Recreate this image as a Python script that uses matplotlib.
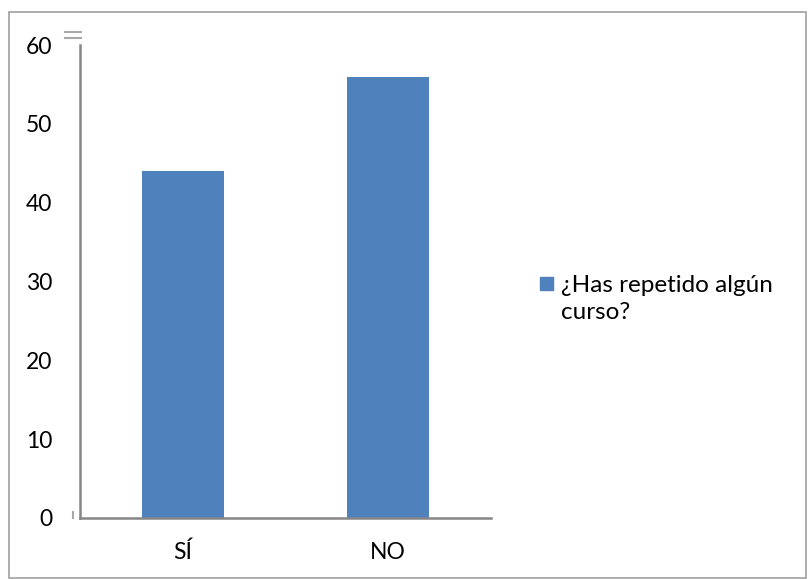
import matplotlib
matplotlib.use("Agg")
import matplotlib.pyplot as plt
from matplotlib.patches import Rectangle
from matplotlib.lines import Line2D

categories = ["SÍ", "NO"]
values = [44, 56]
series_name = "¿Has repetido algún\ncurso?"
yticks = [0, 10, 20, 30, 40, 50, 60]

W, H = 808, 579
fig = plt.figure(figsize=(W / 100, H / 100), dpi=100)
plt.rcParams['font.family'] = ['Lato', 'DejaVu Sans']

def fx(x):
    return x / W

def fy(y):
    return 1 - y / H

left, right, bottom, top = 80, 491, 518, 45
ax = fig.add_axes([fx(left), fy(bottom), (right - left) / W, (bottom - top) / H])
ax.bar(range(len(categories)), values, width=0.4, color="#4F81BD", zorder=2)
ax.set_xlim(-0.5, 1.5)
ax.set_ylim(0, 60)
ax.set_xticks(range(len(categories)))
ax.set_xticklabels(categories)
ax.set_yticks(yticks)
ax.tick_params(axis='both', length=0, labelsize=16.5, colors='black')
ax.tick_params(axis='y', pad=20)
ax.tick_params(axis='x', pad=17)
for s in ['top', 'right']:
    ax.spines[s].set_visible(False)
for s in ['left', 'bottom']:
    ax.spines[s].set_color('#868686')
    ax.spines[s].set_linewidth(1.8)

# Legend
fig.patches.append(Rectangle((fx(540), fy(290)), 13 / W, 13 / H,
                             transform=fig.transFigure, color="#4F81BD"))
fig.text(fx(561), fy(299), series_name, fontsize=17.5, va='center',
         ha='left', linespacing=1.4, transform=fig.transFigure)

# small artifacts near the axis
for yy in (31.5, 37.5):
    fig.lines.append(Line2D([fx(65), fx(72)], [fy(yy), fy(yy)],
                            transform=fig.transFigure, color='#A8A8A8', lw=1.5))
    fig.lines.append(Line2D([fx(74), fx(81)], [fy(yy), fy(yy)],
                            transform=fig.transFigure, color='#A8A8A8', lw=1.5))
fig.lines.append(Line2D([fx(73), fx(73)], [fy(512), fy(518)],
                        transform=fig.transFigure, color='#A8A8A8', lw=1.5))

# Outer border
fig.patches.append(Rectangle((fx(9), 1 / H), (W - 11) / W, (H - 13) / H,
                             transform=fig.transFigure, fill=False,
                             edgecolor='#A0A0A0', linewidth=1.2))

fig.savefig("out.png", dpi=100)
